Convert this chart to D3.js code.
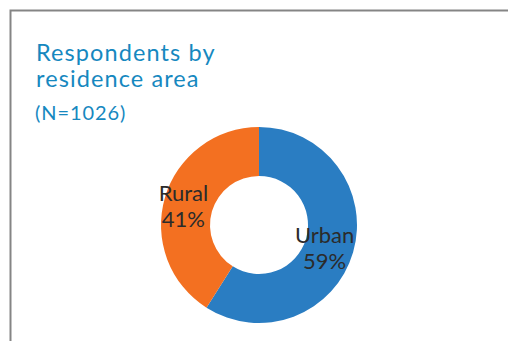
<!DOCTYPE html>
<html>
<head>
<meta charset="utf-8">
<script src="https://cdn.jsdelivr.net/npm/d3@7"></script>
<style>
  html, body { margin: 0; padding: 0; background: #fff; }
  svg { display: block; }
</style>
</head>
<body>
<svg id="chart" width="508" height="341"></svg>
<script>
// Residence area of survey respondents
const categories = ["Urban", "Rural"];
const shares = [59, 41];
const colors = ["#2a7dc2", "#f37021"];
const titleLines = ["Respondents by", "residence area"];
const subtitle = "(N=1026)";

const svg = d3.select("#chart");
const W = 508, H = 341;
const font = "Lato, 'Open Sans', sans-serif";

// card frame (open on the right and bottom)
svg.append("path")
  .attr("d", `M10.5,${H} L10.5,10.5 L${W},10.5`)
  .attr("fill", "none")
  .attr("stroke", "#858585")
  .attr("stroke-width", 2);

// title, one text element per line
titleLines.forEach((t, i) => {
  svg.append("text")
    .attr("x", 36).attr("y", 61 + i * 26)
    .attr("fill", "#1688bf")
    .attr("font-family", font)
    .attr("font-size", 23.5)
    .attr("letter-spacing", 1.1)
    .text(t);
});
svg.append("text")
  .attr("x", 35).attr("y", 120)
  .attr("fill", "#1688bf")
  .attr("font-family", font)
  .attr("font-size", 20)
  .attr("letter-spacing", 0.9)
  .text(subtitle);

// donut
const cx = 259, cy = 225, rOuter = 98, rInner = 49;
const data = categories.map((c, i) => ({ name: c, value: shares[i], color: colors[i] }));
const pie = d3.pie().value(d => d.value).sort(null);
const arc = d3.arc().innerRadius(rInner).outerRadius(rOuter);

const g = svg.append("g").attr("transform", `translate(${cx},${cy})`);
const arcs = pie(data);
g.selectAll("path.slice")
  .data(arcs)
  .join("path")
  .attr("class", "slice")
  .attr("d", arc)
  .attr("fill", d => d.data.color);

const labels = g.selectAll("text.lbl")
  .data(arcs)
  .join("text")
  .attr("class", "lbl")
  .attr("text-anchor", "middle")
  .attr("fill", "#2b2b2b")
  .attr("font-family", font)
  .attr("font-size", 22)
  .attr("transform", d => {
    const [x, y] = arc.centroid(d);
    return `translate(${x - 5},${y})`;
  });
labels.append("tspan").attr("x", 0).attr("y", -3).text(d => d.data.name);
labels.append("tspan").attr("x", 0).attr("y", 23).text(d => d.data.value + "%");
</script>
</body>
</html>
